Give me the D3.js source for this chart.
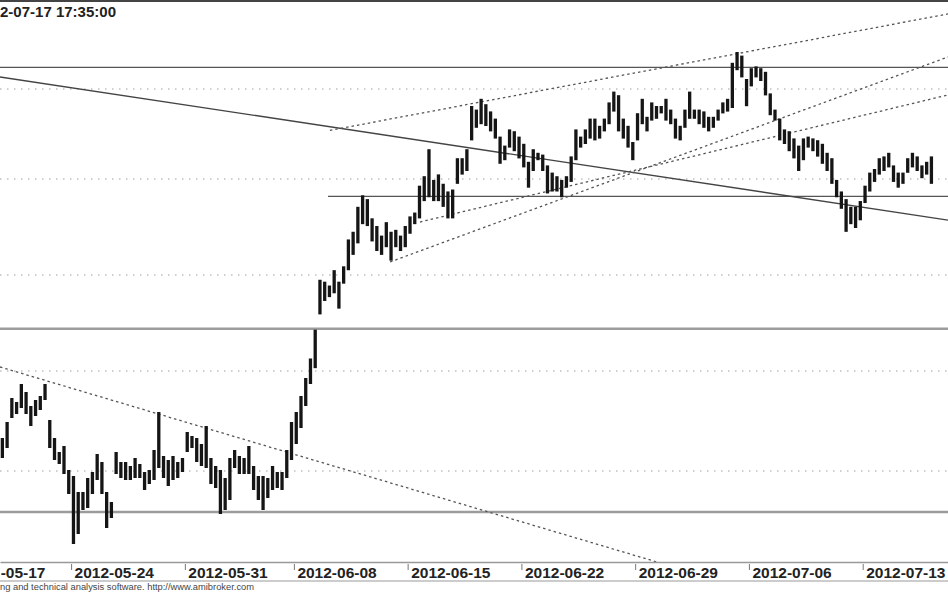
<!DOCTYPE html>
<html>
<head>
<meta charset="utf-8">
<script src="https://cdn.jsdelivr.net/npm/d3@7"></script>
<style>
  html, body { margin: 0; padding: 0; background: #fff; }
  svg { display: block; }
  text { font-family: "Liberation Sans", Arial, sans-serif; }
</style>
</head>
<body>
<svg id="chart" width="948" height="593"></svg>
<script>
// ---------------- DATA ----------------
// texts as they are visible in the (cropped) reference
const titleText = "2-07-17 17:35:00";
const footerText = "ng and technical analysis software. http://www.amibroker.com";

// bar index at which each date label's tick sits
const tickIndex  = [-0.6, 15, 39, 62, 86, 110, 134, 158, 182];
const tickLabels = ["-05-17","2012-05-24","2012-05-31","2012-06-08","2012-06-15",
                    "2012-06-22","2012-06-29","2012-07-06","2012-07-13"];

// price gridlines (dotted)
const gridPrices = [2300, 2250, 2200, 2150, 2100];

// bar highs / lows
const highs = [
2116,2124,2136,2134,2143,2139,2132,2135,2137,2143,
2125,2116,2109,2112,2100,2097,2089,2089,2096,2099,
2108,2104,2089,2084,2109,2104,2104,2102,2106,2103,
2099,2100,2110,2129,2107,2105,2107,2104,2106,2119,
2117,2116,2113,2122,2106,2102,2100,2096,2106,2110,
2107,2106,2112,2102,2097,2097,2096,2102,2099,2099,
2110,2124,2129,2137,2146,2156,2171,2197,2196,2194,
2202,2196,2204,2218,2222,2235,2241,2239,2229,2225,
2220,2227,2222,2223,2220,2225,2230,2232,2246,2251,
2266,2249,2252,2247,2243,2244,2261,2261,2266,2290,
2288,2294,2291,2287,2283,2273,2268,2277,2276,2273,
2269,2259,2266,2264,2263,2257,2253,2251,2249,2251,
2262,2277,2273,2277,2283,2283,2279,2283,2292,2298,
2296,2283,2279,2270,2286,2294,2284,2292,2290,2290,
2294,2288,2283,2279,2288,2298,2288,2288,2287,2284,
2284,2288,2292,2294,2314,2320,2318,2305,2311,2312,
2311,2309,2297,2288,2283,2277,2276,2272,2268,2272,
2273,2272,2271,2269,2264,2261,2249,2243,2239,2235,
2235,2238,2246,2253,2255,2261,2262,2264,2257,2253,
2253,2261,2264,2262,2257,2259,2262];
const lows = [
2107,2112,2127,2129,2132,2129,2123,2128,2131,2136,
2112,2106,2104,2099,2089,2064,2069,2081,2082,2089,
2096,2089,2072,2077,2099,2097,2096,2096,2097,2097,
2091,2094,2096,2102,2097,2093,2096,2097,2100,2110,
2112,2105,2103,2102,2094,2092,2079,2081,2086,2102,
2099,2099,2099,2091,2086,2081,2087,2091,2092,2091,
2097,2106,2114,2122,2133,2144,2152,2180,2187,2189,
2191,2183,2196,2203,2211,2217,2227,2226,2218,2213,
2211,2215,2208,2215,2213,2215,2222,2227,2230,2239,
2241,2239,2239,2236,2230,2230,2248,2253,2255,2272,
2279,2281,2280,2277,2273,2259,2261,2268,2266,2262,
2257,2246,2255,2261,2255,2243,2244,2244,2241,2246,
2249,2261,2268,2270,2273,2272,2273,2277,2281,2288,
2277,2273,2268,2261,2272,2281,2277,2283,2284,2287,
2283,2281,2273,2272,2279,2284,2284,2281,2279,2277,
2279,2283,2287,2288,2290,2311,2307,2291,2302,2307,
2305,2297,2286,2283,2272,2270,2266,2262,2255,2261,
2268,2266,2263,2259,2255,2248,2241,2235,2223,2227,
2225,2229,2238,2244,2249,2253,2255,2257,2249,2246,
2248,2254,2257,2255,2251,2253,2248];

// horizontal study lines: price, start bar, end bar, kind
const hLinePrice = [2312, 2241, 2172, 2079.5];
const hLineFrom  = [-1, 69.2, -1, -1];
const hLineTo    = [201, 201, 201, 201];
const hLineKind  = ["dark", "dark", "grey", "grey"];

// trendlines: start bar, start price, end bar, end price, kind
const trendFromBar   = [0,      0,      69.6,   82.3,   88.6];
const trendFromPrice = [2306.7, 2152.1, 2277,   2206.8, 2227.6];
const trendToBar     = [200,    138.6,  200,    200,    200];
const trendToPrice   = [2228.6, 2054.5, 2341.7, 2317.8, 2296.7];
const trendKind      = ["solid", "dotted", "dotted", "dotted", "dotted"];

// ---------------- CHART ----------------
const W = 948, H = 593;
const plotBottom = 562;
const svg = d3.select("#chart");

const x = d3.scaleLinear().domain([0, 200]).range([0, W]);
const y = d3.scaleLinear()
  .domain(gridPrices)
  .range([89, 179, 275, 371, 471]);

svg.append("defs").append("clipPath").attr("id", "plotclip")
  .append("rect").attr("x", 0).attr("y", 3).attr("width", W).attr("height", plotBottom - 3);

const plot = svg.append("g").attr("clip-path", "url(#plotclip)");

// dotted gridlines
plot.selectAll("line.grid").data(gridPrices).enter().append("line")
  .attr("class", "grid")
  .attr("x1", 0).attr("x2", W)
  .attr("y1", d => y(d)).attr("y2", d => y(d))
  .attr("stroke", "#a0a0a0").attr("stroke-width", 1)
  .attr("stroke-dasharray", "1.5,5.5");

// horizontal study lines
plot.selectAll("line.hline").data(hLinePrice).enter().append("line")
  .attr("class", "hline")
  .attr("x1", (d, i) => x(hLineFrom[i])).attr("x2", (d, i) => x(hLineTo[i]))
  .attr("y1", d => y(d)).attr("y2", d => y(d))
  .attr("stroke", (d, i) => hLineKind[i] === "dark" ? "#555" : "#9c9c9c")
  .attr("stroke-width", (d, i) => hLineKind[i] === "dark" ? 1.3 : 2.5);

// trendlines
plot.selectAll("line.trend").data(trendKind).enter().append("line")
  .attr("class", "trend")
  .attr("x1", (d, i) => x(trendFromBar[i])).attr("y1", (d, i) => y(trendFromPrice[i]))
  .attr("x2", (d, i) => x(trendToBar[i])).attr("y2", (d, i) => y(trendToPrice[i]))
  .attr("stroke", d => d === "solid" ? "#444" : "#555")
  .attr("stroke-width", d => d === "solid" ? 1.4 : 1.3)
  .attr("stroke-dasharray", d => d === "solid" ? null : "2.5,3");

// price bars
plot.selectAll("line.bar").data(highs).enter().append("line")
  .attr("class", "bar")
  .attr("x1", (d, i) => x(i + 0.5)).attr("x2", (d, i) => x(i + 0.5))
  .attr("y1", d => y(d) - 1).attr("y2", (d, i) => y(lows[i]) + 1)
  .attr("stroke", "#151515").attr("stroke-width", 3.3);

// top border
svg.append("line").attr("x1", 0).attr("x2", W).attr("y1", 1).attr("y2", 1)
  .attr("stroke", "#444").attr("stroke-width", 2);

// title
svg.append("text").attr("x", 0).attr("y", 17)
  .attr("font-size", 15).attr("font-weight", "bold").attr("fill", "#222")
  .attr("textLength", 116).attr("lengthAdjust", "spacingAndGlyphs")
  .text(titleText);

// date axis
const xAxis = d3.axisBottom(x)
  .tickValues(tickIndex)
  .tickFormat((d, i) => tickLabels[i])
  .tickSizeInner(6).tickSizeOuter(0);
const ax = svg.append("g").attr("transform", `translate(0,${plotBottom})`).call(xAxis);
ax.select(".domain").attr("stroke", "#999").attr("stroke-width", 1.5);
ax.selectAll(".tick line").attr("stroke", "#777").attr("transform", "translate(0,2)");
ax.selectAll(".tick text")
  .attr("text-anchor", "start").attr("x", 3).attr("y", 16).attr("dy", 0)
  .attr("font-size", 15.5).attr("font-weight", "bold").attr("fill", "#222")
  .attr("font-family", "'Liberation Sans', Arial, sans-serif");

svg.append("line").attr("x1", 0).attr("x2", W).attr("y1", 581).attr("y2", 581)
  .attr("stroke", "#999").attr("stroke-width", 1.2);

// footer
svg.append("text").attr("x", 0).attr("y", 590)
  .attr("font-size", 8.5).attr("fill", "#444")
  .attr("textLength", 254).attr("lengthAdjust", "spacingAndGlyphs")
  .text(footerText);
</script>
</body>
</html>
